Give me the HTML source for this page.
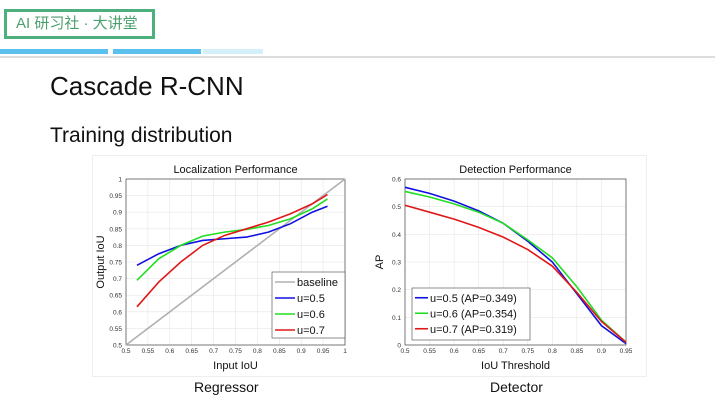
<!DOCTYPE html>
<html><head><meta charset="utf-8"><style>
body{margin:0;width:715px;height:405px;background:#fff;position:relative;overflow:hidden;font-family:"Liberation Sans","Noto Sans CJK SC",sans-serif}
.abs{position:absolute}
</style></head><body>
<div class="abs" style="left:4px;top:9px;width:139px;height:24px;border:3px solid #4caf7d;color:#4a9f6e;font-size:15px;line-height:24px;padding-left:9px;box-sizing:content-box;width:136px">AI 研习社 · 大讲堂</div>
<div class="abs" style="left:0;top:49px;width:108px;height:5px;background:#5bc0ee"></div>
<div class="abs" style="left:113px;top:49px;width:88px;height:5px;background:#5bc0ee"></div>
<div class="abs" style="left:203px;top:49px;width:60px;height:5px;background:#d6f0fb"></div>
<div class="abs" style="left:0;top:56px;width:715px;height:2px;background:#ddd"></div>
<div class="abs" style="left:50px;top:71px;font-size:26px;color:#111">Cascade R-CNN</div>
<div class="abs" style="left:50px;top:124px;font-size:21px;color:#111">Training distribution</div>
<div class="abs" style="left:92px;top:155px;width:553px;height:220px;border:1px solid #eee"></div>
<div class="abs" style="left:194px;top:379px;font-size:14px;color:#111">Regressor</div>
<div class="abs" style="left:490px;top:379px;font-size:14px;color:#111">Detector</div>
<svg class="abs" style="left:0;top:0" width="715" height="405" id="svg"></svg>
<script>
const locX=[0.525,0.575,0.625,0.675,0.725,0.775,0.825,0.875,0.925,0.96];
const locBlue=[0.74,0.775,0.80,0.815,0.82,0.825,0.84,0.865,0.90,0.918];
const locGreen=[0.695,0.76,0.80,0.828,0.84,0.848,0.86,0.88,0.91,0.94];
const locRed=[0.615,0.69,0.75,0.80,0.83,0.85,0.87,0.895,0.925,0.953];
const locTicks=[0.5,0.55,0.6,0.65,0.7,0.75,0.8,0.85,0.9,0.95,1];
const detX=[0.5,0.55,0.6,0.65,0.7,0.75,0.8,0.85,0.9,0.95];
const detBlue=[0.57,0.548,0.52,0.485,0.44,0.375,0.30,0.185,0.07,0.005];
const detGreen=[0.555,0.535,0.51,0.48,0.44,0.38,0.315,0.21,0.09,0.01];
const detRed=[0.505,0.48,0.455,0.425,0.39,0.345,0.285,0.19,0.085,0.01];
const detXTicks=[0.5,0.55,0.6,0.65,0.7,0.75,0.8,0.85,0.9,0.95];
const detYTicks=[0,0.1,0.2,0.3,0.4,0.5,0.6];
const svg=document.getElementById('svg');const NS='http://www.w3.org/2000/svg';
function mk(t,a,txt){const e=document.createElementNS(NS,t);for(const k in a)e.setAttribute(k,a[k]);if(txt!==undefined)e.textContent=txt;svg.appendChild(e);return e;}
function plot(o){
 const sx=v=>o.x0+(v-o.xmin)/(o.xmax-o.xmin)*(o.x1-o.x0);
 const sy=v=>o.y0-(v-o.ymin)/(o.ymax-o.ymin)*(o.y0-o.y1);
 o.xt.forEach(t=>{let g=mk('line',{x1:sx(t),x2:sx(t),y1:o.y1,y2:o.y0,stroke:'#e6e6e6','stroke-width':0.6});
  let l=mk('text',{x:sx(t),y:o.y0+8,'font-size':6.5,'text-anchor':'middle',fill:'#333'},String(t));});
 o.yt.forEach(t=>{let g=mk('line',{x1:o.x0,x2:o.x1,y1:sy(t),y2:sy(t),stroke:'#e6e6e6','stroke-width':0.6});
  let l=mk('text',{x:o.x0-4,y:sy(t)+2.5,'font-size':6.5,'text-anchor':'end',fill:'#333'},String(t));});
 let b=mk('rect',{x:o.x0,y:o.y1,width:o.x1-o.x0,height:o.y0-o.y1,fill:'none',stroke:'#444','stroke-width':0.7});
 let t=mk('text',{x:(o.x0+o.x1)/2,y:o.y1-6,'font-size':11,'text-anchor':'middle',fill:'#111'},o.title);
 let xl=mk('text',{x:(o.x0+o.x1)/2,y:o.y0+24,'font-size':11,'text-anchor':'middle',fill:'#111'},o.xlabel);
 let yl=mk('text',{x:0,y:0,'font-size':11,'text-anchor':'middle',fill:'#111',transform:`translate(${o.x0-22},${(o.y0+o.y1)/2}) rotate(-90)`},o.ylabel);
 if(o.base){let p=mk('line',{x1:sx(0.5),y1:sy(0.5),x2:sx(1),y2:sy(1),stroke:'#b0b0b0','stroke-width':1.6});}
 o.series.forEach(s=>{let p=mk('polyline',{points:o.xs.map((x,i)=>sx(x)+','+sy(s.v[i])).join(' '),fill:'none',stroke:s.c,'stroke-width':1.6});});
}
plot({x0:126,x1:345,y0:345,y1:179,xmin:0.5,xmax:1,ymin:0.5,ymax:1,xt:locTicks,yt:locTicks,title:'Localization Performance',xlabel:'Input IoU',ylabel:'Output IoU',base:true,xs:locX,
 series:[{v:locBlue,c:'#1010e0',n:'line-u05'},{v:locGreen,c:'#22dd22',n:'line-u06'},{v:locRed,c:'#e01818',n:'line-u07'}]});
plot({x0:405,x1:626,y0:345,y1:179,xmin:0.5,xmax:0.95,ymin:0,ymax:0.6,xt:detXTicks,yt:detYTicks,title:'Detection Performance',xlabel:'IoU Threshold',ylabel:'AP',xs:detX,
 series:[{v:detBlue,c:'#1010e0',n:'line-u05'},{v:detGreen,c:'#22dd22',n:'line-u06'},{v:detRed,c:'#e01818',n:'line-u07'}]});
function legend(x,y,w,h,items,fs,lw,dy){let r=mk('rect',{x,y,width:w,height:h,fill:'#fff',stroke:'#444','stroke-width':0.6});
 items.forEach((it,i)=>{const yy=y+dy/2+2+i*dy;let l=mk('line',{x1:x+3,x2:x+3+lw,y1:yy,y2:yy,stroke:it[1],'stroke-width':1.6});
 let t=mk('text',{x:x+5+lw,y:yy+4,'font-size':fs,fill:'#111'},it[0]);});}
legend(272,272,73,66,[['baseline','#b0b0b0'],['u=0.5','#1010e0'],['u=0.6','#22dd22'],['u=0.7','#e01818']],11,20,16);
legend(412,288,118,52,[['u=0.5 (AP=0.349)','#1010e0'],['u=0.6 (AP=0.354)','#22dd22'],['u=0.7 (AP=0.319)','#e01818']],11,13,15.5);
</script>
</body></html>
